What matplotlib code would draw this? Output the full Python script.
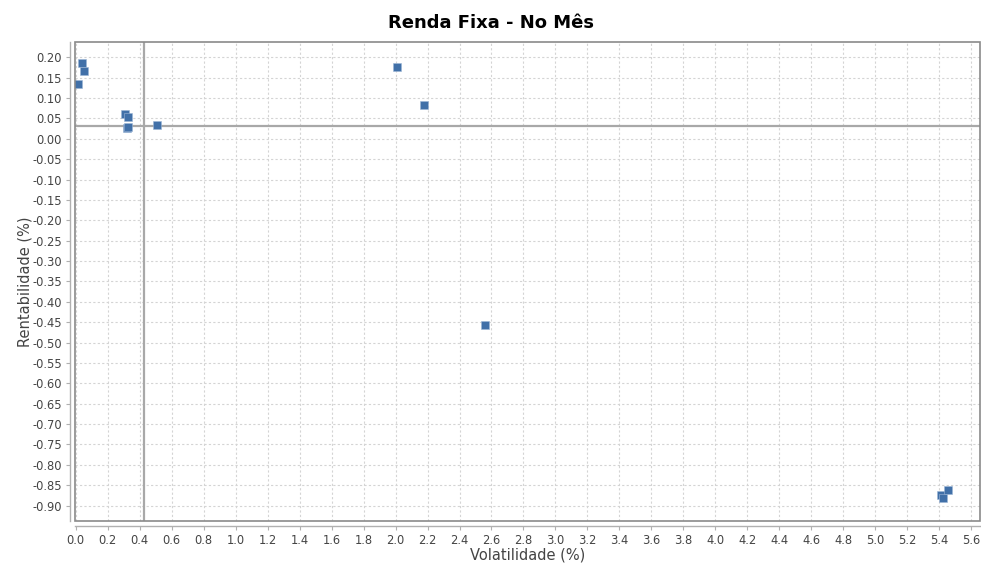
import matplotlib
matplotlib.use("Agg")
import matplotlib.pyplot as plt
from matplotlib.patches import Rectangle
import numpy as np

# Data
volatilidade = [0.017, 0.042, 0.051, 0.31, 0.33, 0.32, 0.33, 0.51, 2.008, 2.18, 2.557, 5.41, 5.425, 5.456]
rentabilidade = [0.134, 0.185, 0.166, 0.061, 0.053, 0.026, 0.030, 0.033, 0.177, 0.084, -0.456, -0.874, -0.882, -0.862]
ref_x = 0.425
ref_y = 0.032
x_ticks = np.round(np.arange(0, 5.61, 0.2), 1)
y_ticks = np.round(np.arange(-0.90, 0.201, 0.05), 2)

W, H = 981, 564
fig = plt.figure(figsize=(W / 100, H / 100), dpi=100)
left, right, top, bottom = 75.3, 979.5, 42.3, 520.7
ax = fig.add_axes([left / W, 1 - bottom / H, (right - left) / W, (bottom - top) / H])

ax.set_xlim(-0.002, 5.651)
ax.set_ylim(-0.937, 0.2368)

ax.grid(True, color="#d4d4d4", linestyle=(0, (2, 2)), linewidth=0.8)
ax.set_axisbelow(True)

ax.axvline(ref_x, color="#a8a8a8", linewidth=1.6, zorder=2)
ax.axhline(ref_y, color="#a8a8a8", linewidth=1.6, zorder=2)

ax.scatter(volatilidade, rentabilidade, marker="s", s=30, color="#4170A8",
           edgecolors="#9db6d6", linewidths=0.4, zorder=3)

ax.set_xticks(x_ticks)
ax.set_xticklabels([f"{v:.1f}" for v in x_ticks])
ax.set_yticks(y_ticks)
ax.set_yticklabels([f"{v:.2f}" for v in y_ticks])

for s in ["top", "right"]:
    ax.spines[s].set_visible(False)
for s in ["left", "bottom"]:
    ax.spines[s].set_position(("outward", 3.5))
    ax.spines[s].set_color("#b0b0b0")
    ax.spines[s].set_linewidth(1.0)

ax.add_patch(Rectangle((0, 0), 1, 1, transform=ax.transAxes, fill=False,
                       edgecolor="#8a8a8a", linewidth=1.2, clip_on=False, zorder=4))

ax.tick_params(axis="both", direction="out", length=3, width=0.8, color="#b0b0b0",
               labelsize=8.3, labelcolor="#444444", pad=3)

fig.text((left + right) / 2 / W, 1 - 555.5 / H, "Volatilidade (%)", ha="center", va="center",
         fontsize=10.5, color="#444444")
fig.text(25 / W, 1 - ((top + bottom) / 2) / H, "Rentabilidade (%)", ha="center", va="center",
         rotation=90, fontsize=10.5, color="#444444")
fig.text(0.5, 1 - 22.5 / H, "Renda Fixa - No Mês", ha="center", va="center",
         fontsize=13, fontweight="bold", color="#000000")

fig.savefig("out.png", dpi=100, facecolor="white")
